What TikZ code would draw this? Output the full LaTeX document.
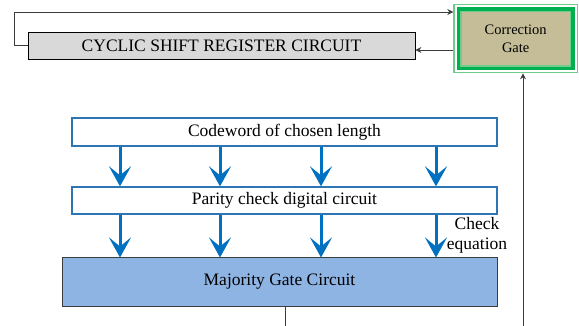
\documentclass[tikz,border=0pt]{standalone}
\usepackage{fontspec}
\setmainfont{Liberation Serif}
\usetikzlibrary{arrows.meta,calc}
\definecolor{boxblue}{RGB}{46,117,182}
\definecolor{arrblue}{RGB}{0,112,192}
\definecolor{majfill}{RGB}{142,180,227}
\definecolor{regfill}{RGB}{217,217,217}
\definecolor{gatefill}{RGB}{196,189,151}
\definecolor{gatedark}{RGB}{0,176,80}
\definecolor{gatelight}{RGB}{110,205,140}
\definecolor{linegray}{RGB}{60,60,60}
\tikzset{
  txt/.style={font=\fontsize{17.5}{20}\selectfont, text=black},
  plainbox/.style={draw=boxblue, line width=1.3pt, fill=white, inner sep=0pt, txt},
  bigarrow/.style={draw=arrblue, line width=3pt, -{Stealth[length=20pt,width=22pt,inset=9pt]}},
  thinarrow/.style={draw=linegray, line width=0.9pt, -{Stealth[length=6pt,width=6pt,inset=2pt]}},
  thinline/.style={draw=linegray, line width=0.9pt}
}
\begin{document}
\begin{tikzpicture}[x=1pt,y=-1pt]
\useasboundingbox (0,0) rectangle (579,326);
% shift register
\node[draw=black, line width=0.8pt, fill=regfill, inner sep=0pt, minimum width=387pt, minimum height=27pt, txt] (reg) at (221.5,45.5) {CYCLIC SHIFT REGISTER CIRCUIT};
% correction gate
\node[draw=gatelight, line width=1.3pt, fill=white, inner sep=0pt, minimum width=123.5pt, minimum height=68pt] (gate) at (515.7,38.7) {};
\draw[draw=gatedark, line width=3.4pt, fill=gatefill] ($(gate.north west)+(5,5)$) rectangle ($(gate.south east)+(-5,-5)$);
\draw[draw=gatelight, line width=1.6pt] ($(gate.north west)+(7.6,7.6)$) rectangle ($(gate.south east)+(-7.6,-7.6)$);
\node[align=center, font=\fontsize{14.5}{18}\selectfont, text=black] (gatetext) at (gate.center) {Correction\\Gate};
% codeword, parity, majority
\node[plainbox, minimum width=425pt, minimum height=28pt] (code) at (284.5,132) {Codeword of chosen length};
\node[plainbox, minimum width=425pt, minimum height=27pt] (par) at (284.5,200.5) {Parity check digital circuit};
\node[draw=linegray, line width=1pt, fill=majfill, inner sep=0pt, minimum width=435pt, minimum height=48pt, txt] (maj) at (279.5,282) {Majority Gate Circuit};
\node[align=center, txt, inner sep=0pt] (check) at (477,235) {Check\\equation};
% coordinates
\coordinate (c1) at (120,0);
\coordinate (c2) at (220,0);
\coordinate (c3) at (321,0);
\coordinate (c4) at (436,0);
\coordinate (loopx) at (14,12);
\coordinate (botmaj) at (285,326);
\coordinate (botgate) at (523,326);
% blue arrows
\foreach \c in {c1,c2,c3,c4}{
  \draw[bigarrow] (code.south -| \c) -- (par.north -| \c);
  \draw[bigarrow] (par.south -| \c) -- (maj.north -| \c);
}
% thin connectors
\draw[thinarrow] (gate.west |- 0,50) -- (reg.east |- 0,50);
\draw[thinarrow] (reg.west) -| (loopx) -- (loopx -| gate.west);
\draw[thinarrow] (botgate) -- (gate.south -| botgate);
\draw[thinline] (maj.south -| botmaj) -- (botmaj);
\end{tikzpicture}
\end{document}
